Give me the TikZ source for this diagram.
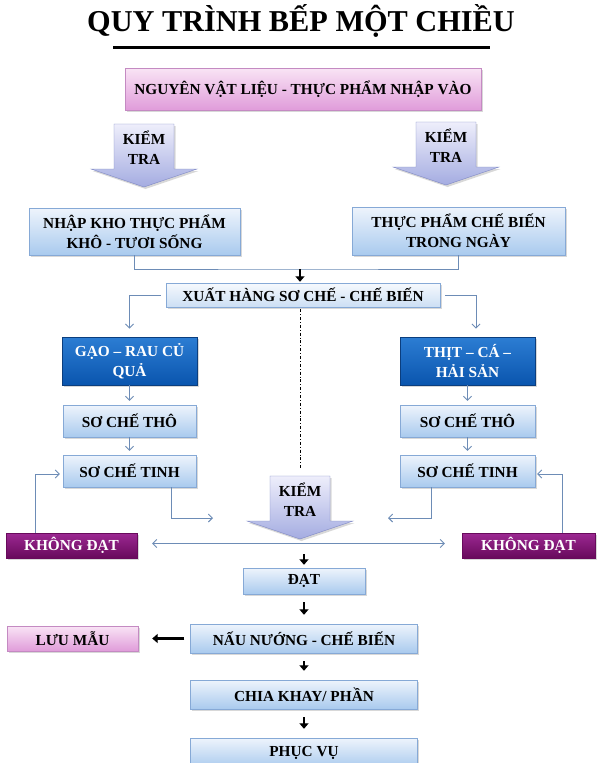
\documentclass[tikz,border=0pt]{standalone}
\usepackage{fontspec}
\setmainfont{Liberation Serif}
\usetikzlibrary{positioning, shadows, arrows.meta}
\definecolor{boxTop}{HTML}{EEF4FC}
\definecolor{boxBottom}{HTML}{A9CAEE}
\definecolor{boxBorder}{HTML}{86A9D6}
\definecolor{paleTop}{HTML}{F6F9FD}
\definecolor{paleBottom}{HTML}{CCDFF4}
\definecolor{darkTop}{HTML}{2C7DD3}
\definecolor{darkBottom}{HTML}{0A55AE}
\definecolor{darkBorder}{HTML}{0B3E7E}
\definecolor{pinkTop}{HTML}{F9E4F5}
\definecolor{pinkBottom}{HTML}{E09CDA}
\definecolor{pinkBorder}{HTML}{C48AC2}
\definecolor{failTop}{HTML}{9C2892}
\definecolor{failBottom}{HTML}{680A5C}
\definecolor{checkTop}{HTML}{EEEEFB}
\definecolor{checkBottom}{HTML}{A4ACE1}
\definecolor{checkBorder}{HTML}{7F88C4}
\definecolor{linkColor}{HTML}{6D8CB6}
\tikzstyle{flow} = [x = 1pt, y = -1pt]
\tikzstyle{boxShadow} = [drop shadow={shadow xshift=1.5pt, shadow yshift=-2pt, opacity=0.3}]
\tikzstyle{boxText} = [font=\fontsize{15.3}{20}\selectfont\bfseries, align=center, inner sep=0pt]
\tikzstyle{lightBox} = [boxText, boxShadow, draw=boxBorder, top color=boxTop, bottom color=boxBottom]
\tikzstyle{paleBox} = [boxText, boxShadow, draw=boxBorder, top color=paleTop, bottom color=paleBottom]
\tikzstyle{darkBox} = [boxText, boxShadow, text=white, draw=darkBorder, thick, top color=darkTop, bottom color=darkBottom]
\tikzstyle{pinkBox} = [boxText, boxShadow, draw=pinkBorder, top color=pinkTop, bottom color=pinkBottom]
\tikzstyle{failBox} = [boxText, boxShadow, text=white, draw=failBottom, top color=failTop, bottom color=failBottom]
\tikzstyle{checkArrowStyle} = [boxShadow, draw=checkBorder, top color=checkTop, bottom color=checkBottom]
\tikzstyle{thinLink} = [draw=linkColor, line width=0.9pt, -{Straight Barb[length=4pt, width=8pt]}]
\tikzstyle{joinLine} = [draw=linkColor, line width=0.9pt]
\tikzstyle{boldLink} = [line width=2.6pt, -{Triangle[length=5.5pt, width=9pt]}]
\tikzstyle{boldStep} = [boldLink, shorten <=8pt, shorten >=9pt]
\newcommand{\checkArrow}[3]{
  \shadedraw [checkArrowStyle] (#2 - 30, #3) -- (#2 + 30, #3) -- (#2 + 30, #3 + 45) -- (#2 + 53, #3 + 45)
    -- (#2, #3 + 63) -- (#2 - 53, #3 + 45) -- (#2 - 30, #3 + 45) -- cycle;
  \node [boxText] (#1) at (#2, #3 + 24) {KIỂM\\TRA};
  \coordinate (#1Tip) at (#2, #3 + 63);
}

\begin{document}
\begin{tikzpicture}[flow]
  \useasboundingbox (0, 0) rectangle (602, 763);
  \fill [white] (0, 0) rectangle (602, 763);

  \node [font=\fontsize{30.3}{36}\selectfont\bfseries, inner sep=0pt] (title) at (301, 21) {QUY TRÌNH BẾP MỘT CHIỀU};
  \draw [line width=3pt] (113, 47) -- (490, 47);

  \node [pinkBox, minimum width=356pt, minimum height=42pt] (input) at (303, 89) {NGUYÊN VẬT LIỆU - THỰC PHẨM NHẬP VÀO};
  \checkArrow{checkLeft}{144}{124}
  \checkArrow{checkRight}{446}{122}

  \node [lightBox, minimum width=211pt, minimum height=47pt] (storeDry) at (134.5, 231.5) {NHẬP KHO THỰC PHẨM\\KHÔ - TƯƠI SỐNG};
  \node [lightBox, minimum width=213pt, minimum height=48pt] (storeDay) at (458.5, 231) {THỰC PHẨM CHẾ BIẾN\\TRONG NGÀY};
  \node [paleBox, minimum width=274pt, minimum height=24pt] (dispatch) at (303, 295) {XUẤT HÀNG SƠ CHẾ - CHẾ BIẾN};
  \coordinate (joinMid) at (300, 269);
  \draw [joinLine] (storeDry.south) |- (joinMid) -| (storeDay.south);
  \draw [boldLink, shorten >=1pt] (joinMid) -- (joinMid |- dispatch.north);

  \node [darkBox, minimum width=135pt, minimum height=48pt] (veg) at (129.5, 361) {GẠO – RAU CỦ\\QUẢ};
  \node [darkBox, minimum width=135pt, minimum height=48pt] (meat) at (467.5, 361) {THỊT – CÁ –\\HẢI SẢN};
  \draw [thinLink, shorten <=5pt, shorten >=8pt] (dispatch.west) -| (veg.north);
  \draw [thinLink, shorten <=5pt, shorten >=8pt] (dispatch.east) -| ([xshift=8.5pt]meat.north);
  \coordinate (axisEnd) at (300, 470);
  \draw [line width=0.8pt, dash dot, shorten <=2pt] (dispatch.south -| axisEnd) -- (axisEnd);

  \node [lightBox, minimum width=133pt, minimum height=32pt] (roughLeft) at (129.5, 421) {SƠ CHẾ THÔ};
  \node [lightBox, minimum width=133pt, minimum height=32pt] (fineLeft) at (129.5, 471) {SƠ CHẾ TINH};
  \node [lightBox, minimum width=135pt, minimum height=32pt] (roughRight) at (467.5, 421) {SƠ CHẾ THÔ};
  \node [lightBox, minimum width=135pt, minimum height=32pt] (fineRight) at (467.5, 471) {SƠ CHẾ TINH};
  \draw [thinLink, shorten >=4pt] (veg) -- (roughLeft);
  \draw [thinLink, shorten >=4pt] (roughLeft) -- (fineLeft);
  \draw [thinLink, shorten >=4pt] (meat) -- (roughRight);
  \draw [thinLink, shorten >=4pt] (roughRight) -- (fineRight);

  \checkArrow{checkMid}{300}{476}
  \coordinate (checkInLeft) at (213, 518);
  \coordinate (checkInRight) at (388, 518);
  \draw [thinLink] ([xshift=41.5pt]fineLeft.south) |- (checkInLeft);
  \draw [thinLink] ([xshift=-36.5pt]fineRight.south) |- (checkInRight);

  \node [failBox, minimum width=131pt, minimum height=25pt] (failLeft) at (71.5, 545.5) {KHÔNG ĐẠT};
  \node [failBox, minimum width=133pt, minimum height=25pt] (failRight) at (528.5, 545.5) {KHÔNG ĐẠT};
  \draw [thinLink, {Straight Barb[length=4pt, width=8pt]}-{Straight Barb[length=4pt, width=8pt]}, shorten <=15pt, shorten >=17pt]
    ([yshift=2pt]failLeft.east) -- ([yshift=2pt]failRight.west);
  \draw [thinLink, shorten >=3pt] ([xshift=-36.5pt]failLeft.north) |- ([yshift=-3pt]fineLeft.west);
  \draw [thinLink, shorten >=2pt] ([xshift=33.5pt]failRight.north) |- ([yshift=-3pt]fineRight.east);

  \node [lightBox, minimum width=122pt, minimum height=26pt] (pass) at (304, 581) {ĐẠT};
  \node [lightBox, minimum width=227pt, minimum height=29pt] (cook) at (304, 638.5) {NẤU NƯỚNG - CHẾ BIẾN};
  \node [pinkBox, minimum width=131pt, minimum height=25pt] (sample) at (72.5, 638.5) {LƯU MẪU};
  \node [lightBox, minimum width=227pt, minimum height=29pt] (portion) at (304, 694.5) {CHIA KHAY/ PHẦN};
  \node [lightBox, minimum width=227pt, minimum height=30pt] (serve) at (304, 753) {PHỤC VỤ};
  \draw [boldLink, shorten <=15pt, shorten >=3pt] (checkMidTip -| pass.north) -- (pass.north);
  \draw [boldStep] (pass) -- (cook);
  \draw [boldLink, shorten <=6pt, shorten >=14pt] (cook) -- (sample);
  \draw [boldStep] (cook) -- (portion);
  \draw [boldStep] (portion) -- (serve);
\end{tikzpicture}
\end{document}
